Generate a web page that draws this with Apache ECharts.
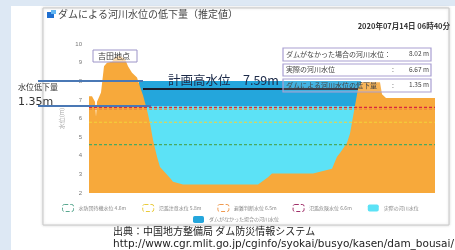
<!DOCTYPE html>
<html>
<head>
<meta charset="utf-8">
<script src="https://cdn.jsdelivr.net/npm/echarts@6/dist/echarts.min.js"></script>
<style>
    html, body { margin: 0; padding: 0; }
    #damChart { width: 455px; height: 250px; }
</style>
</head>
<body>
<div id="damChart"></div>
<script>
// 河川横断（距離は図から読んだ相対値）
var groundDist = [0, 3, 6, 7, 8, 10, 12, 15, 18, 23, 26, 31, 36, 39, 43, 48, 51, 54, 58, 61,
    64, 68, 71, 76, 81, 84, 94, 169, 179, 183, 224, 226, 243, 248, 251, 258, 261, 264, 267, 269,
    273, 291, 293, 297, 346];
var groundLevel = [7.2, 7.2, 6.9, 6.1, 6.9, 7.0, 7.4, 8.8, 9.0, 9.05, 9.3, 9.35, 9.2, 8.8, 8.45, 8.2, 7.7, 7.25, 6.45, 5.75,
    4.85, 3.95, 3.4, 3.1, 2.8, 2.6, 2.45, 2.45, 2.85, 3.05, 3.05, 3.15, 3.3, 3.95, 4.15, 4.7, 5.2, 6.1, 7.0, 7.6,
    7.95, 7.95, 7.3, 7.1, 7.1];

// 水位
var noDamDist = [50, 272];
var noDamLevel = 8.02;
var actualDist = [52, 270];
var actualLevel = 6.67;
var planDist = [54, 269];
var planLevel = 7.59;
var arrowDist = 29;

// 基準水位
var levelNames = ['水防団待機水位', '氾濫注意水位', '避難判断水位', '氾濫危険水位'];
var levelValues = [4.6, 5.8, 6.5, 6.6];
var levelColors = ['#4aa860', '#f2d43a', '#f0843a', '#d8283c'];
var levelIconColors = ['#5aa890', '#eacb3c', '#f09a50', '#a0306a'];
var levelDist = [0, 346];

var yTicks = [2, 10, 1];

var JP = '"Noto Sans CJK JP", sans-serif';

function pairs(xs, ys) {
    var out = [];
    for (var i = 0; i < xs.length; i++) {
        out.push([xs[i], Array.isArray(ys) ? ys[i] : ys]);
    }
    return out;
}

var myChart = echarts.init(document.getElementById('damChart'));

var series = [];
var legendRow1 = [];

series.push({
    name: 'ダムがなかった場合の河川水位',
    type: 'line',
    data: pairs(noDamDist, noDamLevel),
    showSymbol: false,
    lineStyle: {width: 0},
    itemStyle: {color: '#24a6dc'},
    areaStyle: {color: '#24a6dc', opacity: 1, origin: 'start'},
    z: 3
});
series.push({
    name: '実際の河川水位',
    type: 'line',
    data: pairs(actualDist, actualLevel),
    showSymbol: false,
    lineStyle: {width: 0},
    itemStyle: {color: '#5ce2f6'},
    areaStyle: {color: '#5ce2f6', opacity: 1, origin: 'start'},
    z: 4
});
series.push({
    name: '地盤',
    type: 'line',
    data: pairs(groundDist, groundLevel),
    showSymbol: false,
    lineStyle: {width: 0},
    itemStyle: {color: '#f7a93b'},
    areaStyle: {color: '#f7a93b', opacity: 1, origin: 'start'},
    z: 5
});

for (var i = 0; i < levelNames.length; i++) {
    var nm = levelNames[i] + ' ' + levelValues[i] + 'm';
    series.push({
        name: nm,
        type: 'line',
        data: pairs(levelDist, levelValues[i]),
        showSymbol: false,
        lineStyle: {width: 1.2, type: [3, 2], color: levelColors[i]},
        itemStyle: {color: levelColors[i]},
        z: 6
    });
    legendRow1.push({
        name: nm,
        itemStyle: {color: '#fff', borderColor: levelIconColors[i], borderWidth: 1, borderType: 'dashed'}
    });
}
legendRow1.push({name: '実際の河川水位'});

// 計画高水位 と 低下量の矢印
series.push({
    name: '計画高水位',
    type: 'line',
    data: pairs(planDist, planLevel),
    showSymbol: false,
    lineStyle: {width: 2, color: '#1b1e2c'},
    z: 7,
    markLine: {
        silent: true,
        symbol: ['arrow', 'arrow'],
        symbolSize: [7, 8],
        label: {show: false},
        lineStyle: {color: '#4a7fc0', width: 1.5, type: 'solid'},
        data: [[{coord: [arrowDist, noDamLevel]}, {coord: [arrowDist, actualLevel]}]]
    }
});

var option = {
    animation: false,
    backgroundColor: '#dde8f4',
    grid: {left: 89, right: 20, top: 44, bottom: 57},
    xAxis: {
        type: 'value',
        min: levelDist[0],
        max: levelDist[1],
        show: false
    },
    yAxis: {
        type: 'value',
        min: yTicks[0],
        max: yTicks[1],
        interval: yTicks[2],
        name: '水位(m)',
        nameLocation: 'middle',
        nameGap: 17,
        nameTextStyle: {fontSize: 6, color: '#aaa', fontFamily: JP},
        axisLine: {show: false},
        axisTick: {show: false},
        splitLine: {show: false},
        axisLabel: {fontSize: 6, color: '#777', margin: 7}
    },
    legend: [{
        data: legendRow1,
        left: 57,
        top: 199,
        icon: 'roundRect',
        itemWidth: 11,
        itemHeight: 7,
        itemGap: 16,
        selectedMode: false,
        textStyle: {fontSize: 5, color: '#888', fontFamily: JP}
    }, {
        data: ['ダムがなかった場合の河川水位'],
        left: 188,
        top: 211,
        icon: 'roundRect',
        itemWidth: 11,
        itemHeight: 7,
        selectedMode: false,
        textStyle: {fontSize: 5, color: '#888', fontFamily: JP}
    }],
    series: series
};

myChart.setOption(option);

// 位置は軸から換算
var yNoDam = myChart.convertToPixel({yAxisIndex: 0}, noDamLevel);
var yActual = myChart.convertToPixel({yAxisIndex: 0}, actualLevel);
var xBandStart = myChart.convertToPixel({xAxisIndex: 0}, noDamDist[0]);
var xWaterStart = myChart.convertToPixel({xAxisIndex: 0}, actualDist[0] + 2);

var diffText = (noDamLevel - actualLevel).toFixed(2);

var infoRows = [
    ['ダムがなかった場合の河川水位：', noDamLevel.toFixed(2) + ' m', ''],
    ['実際の河川水位', actualLevel.toFixed(2) + ' m', ':'],
    ['ダムによる河川水位の低下量', diffText + ' m', ':']
];
var infoTop = [48, 64, 79];
var infoH = [13, 12, 13];

var graphics = [
    {type: 'rect', z: 0, shape: {x: 11, y: 6, width: 444, height: 244}, style: {fill: '#fff'}},
    {type: 'rect', z: 0, shape: {x: 43, y: 8, width: 406, height: 217},
        style: {fill: '#fff', stroke: '#c9c9c9', lineWidth: 1, shadowBlur: 3, shadowColor: 'rgba(0,0,0,0.15)'}},
    {type: 'rect', z: 20, shape: {x: 47, y: 12, width: 7, height: 6}, style: {fill: '#1f6fd0'}},
    {type: 'rect', z: 20, shape: {x: 51, y: 10, width: 5, height: 4}, style: {fill: '#62b6f2'}},
    {type: 'text', z: 20, left: 58, top: 9,
        style: {text: 'ダムによる河川水位の低下量（推定値）', fontSize: 10, fill: '#454545', fontFamily: JP}},
    {type: 'text', z: 20, right: 5, top: 22,
        style: {text: '2020年07月14日 06時40分', fontSize: 7.5, fontWeight: 'bold', fill: '#333', fontFamily: JP}},
    {type: 'rect', z: 20, shape: {x: 93, y: 50, width: 44, height: 12},
        style: {fill: 'rgba(255,255,255,0.6)', stroke: '#9c94c8', lineWidth: 1}},
    {type: 'text', z: 21, left: 98, top: 52,
        style: {text: '吉田地点', fontSize: 8, fill: '#333', fontFamily: JP}},
    {type: 'text', z: 21, left: 168, top: 74,
        style: {text: '計画高水位　' + planLevel.toFixed(2) + 'm', fontSize: 12.5, fill: '#1c2a48', fontFamily: JP}},
    {type: 'line', z: 21, shape: {x1: 38, y1: yNoDam, x2: xBandStart + 4, y2: yNoDam},
        style: {stroke: '#4a78b5', lineWidth: 2}},
    {type: 'line', z: 21, shape: {x1: 38, y1: yActual, x2: xWaterStart + 8, y2: yActual},
        style: {stroke: '#4a78b5', lineWidth: 2}},
    {type: 'text', z: 21, left: 18, top: yNoDam + 2,
        style: {text: '水位低下量', fontSize: 8, fill: '#333', fontFamily: JP}},
    {type: 'text', z: 21, left: 18, top: yNoDam + 16,
        style: {text: diffText + 'm', fontSize: 11, fill: '#333', fontFamily: '"DejaVu Sans", sans-serif'}},
    {type: 'text', z: 20, left: 113, top: 226,
        style: {text: '出典：中国地方整備局 ダム防災情報システム', fontSize: 10, fill: '#222', fontFamily: JP}},
    {type: 'text', z: 20, left: 113, top: 239,
        style: {text: 'http://www.cgr.mlit.go.jp/cginfo/syokai/busyo/kasen/dam_bousai/', fontSize: 10.5, fill: '#222', fontFamily: '"DejaVu Sans", sans-serif'}}
];

for (var r = 0; r < infoRows.length; r++) {
    graphics.push({type: 'rect', z: 20, shape: {x: 283, y: infoTop[r], width: 148, height: infoH[r]},
        style: {fill: r === 2 ? 'rgba(255,255,255,0.15)' : '#fff', stroke: '#a99fd2', lineWidth: 1.2}});
    graphics.push({type: 'text', z: 21, left: 286, top: infoTop[r] + infoH[r] / 2 - 4,
        style: {text: infoRows[r][0], fontSize: 7, fill: '#444', fontFamily: JP}});
    graphics.push({type: 'text', z: 21, left: 392, top: infoTop[r] + infoH[r] / 2 - 4,
        style: {text: infoRows[r][2], fontSize: 7, fill: '#444', fontFamily: JP}});
    graphics.push({type: 'text', z: 21, right: 26, top: infoTop[r] + infoH[r] / 2 - 4,
        style: {text: infoRows[r][1], fontSize: 6.5, fill: '#444', fontFamily: JP}});
}

myChart.setOption({graphic: graphics});
</script>
</body>
</html>
